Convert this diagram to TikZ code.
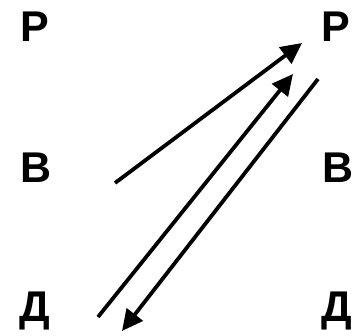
\documentclass[tikz,border=0pt]{standalone}
\usepackage{fontspec}
\setmainfont{Liberation Sans}
\usetikzlibrary{arrows.meta}
\begin{document}
\begin{tikzpicture}[x=1pt,y=-1pt,
  letter/.style={anchor=base,inner sep=0pt,font=\fontsize{43}{43}\selectfont\bfseries},
  arr/.style={line width=3.8pt,-{Triangle[length=21pt,width=20pt]}}]
\useasboundingbox (0,0) rectangle (357,336);
\node[letter] (lp) at (35,42) {Р};
\node[letter] (lv) at (36,183) {В};
\node[letter] (ld) at (35,322) {Д};
\node[letter] (rp) at (336,42) {Р};
\node[letter] (rv) at (338,183) {В};
\node[letter] (rd) at (337,322) {Д};
\coordinate (a1s) at (115,183);
\coordinate (a1e) at (302,43);
\coordinate (a2s) at (98,317);
\coordinate (a2e) at (293,74);
\coordinate (a3s) at (318,79);
\coordinate (a3e) at (122,331);
\draw[arr] (a1s) -- (a1e);
\draw[arr] (a2s) -- (a2e);
\draw[arr] (a3s) -- (a3e);
\end{tikzpicture}
\end{document}
